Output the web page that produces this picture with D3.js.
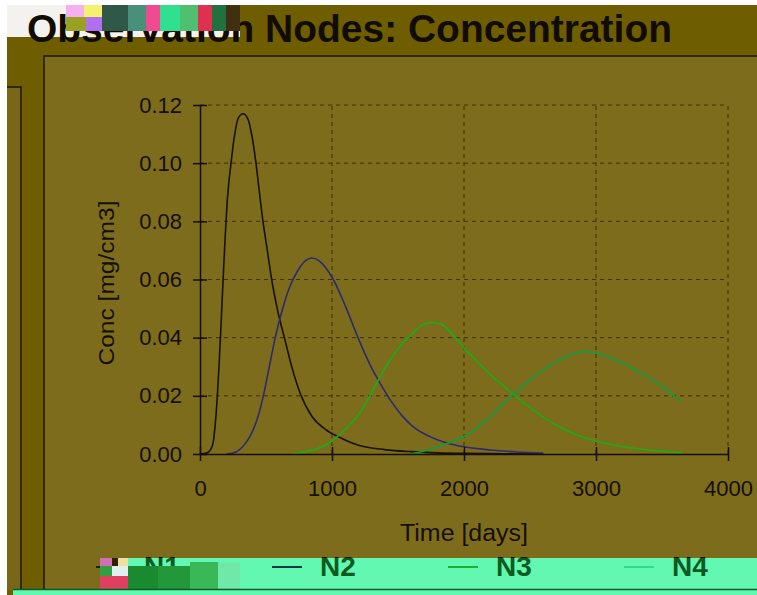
<!DOCTYPE html>
<html>
<head>
<meta charset="utf-8">
<script src="https://cdn.jsdelivr.net/npm/d3@7"></script>
<style>
  body { margin: 0; background: #fff; }
  text { font-family: "Liberation Sans", Arial, sans-serif; }
</style>
</head>
<body>
<script>
const W = 757, H = 595;

// series (days, mg/cm3)
const n1Days = [0, 50, 80, 100, 115, 130, 145, 160, 175, 190, 205, 220, 235, 260, 290, 326, 360, 395, 424, 450, 477, 510, 543, 590, 645, 695, 758, 850, 950, 1045, 1200, 1400, 1600, 1800, 2000, 2300, 2600];
const n1Conc = [0, 0.0003, 0.0015, 0.004, 0.01, 0.019, 0.031, 0.045, 0.06, 0.074, 0.086, 0.094, 0.10, 0.109, 0.1155, 0.117, 0.1155, 0.109, 0.10, 0.09, 0.08, 0.07, 0.06, 0.049, 0.039, 0.03, 0.021, 0.0128, 0.0085, 0.006, 0.003, 0.0015, 0.0008, 0.0004, 0.0002, 0.0001, 0];

const n2Days = [200, 250, 300, 350, 400, 440, 480, 525, 570, 620, 680, 740, 800, 846, 900, 950, 1010, 1100, 1197, 1290, 1364, 1450, 1530, 1614, 1750, 1869, 2000, 2200, 2400, 2600];
const n2Conc = [0, 0.0003, 0.0015, 0.004, 0.008, 0.013, 0.02, 0.03, 0.04, 0.049, 0.0575, 0.063, 0.0665, 0.0674, 0.0665, 0.0642, 0.06, 0.051, 0.04, 0.0305, 0.0244, 0.018, 0.0132, 0.0094, 0.0058, 0.0038, 0.0025, 0.0014, 0.0007, 0.0003];

const n3Days = [700, 800, 900, 1000, 1100, 1200, 1288, 1364, 1450, 1515, 1600, 1680, 1755, 1830, 1900, 2000, 2100, 2200, 2300, 2374, 2500, 2600, 2750, 2900, 3000, 3200, 3400, 3650];
const n3Conc = [0, 0.0008, 0.002, 0.0045, 0.0085, 0.0135, 0.02, 0.0266, 0.033, 0.037, 0.041, 0.0443, 0.0452, 0.0446, 0.0418, 0.0365, 0.0318, 0.0273, 0.0234, 0.0205, 0.016, 0.0127, 0.0087, 0.0058, 0.0045, 0.0026, 0.0014, 0.0004];

const n4Days = [1600, 1700, 1800, 1900, 2000, 2100, 2200, 2300, 2374, 2500, 2600, 2750, 2850, 2904, 3000, 3100, 3250, 3400, 3500, 3636];
const n4Conc = [0, 0.001, 0.0025, 0.004, 0.006, 0.009, 0.013, 0.0175, 0.0205, 0.0254, 0.029, 0.033, 0.0348, 0.0352, 0.0347, 0.0333, 0.0302, 0.0262, 0.0233, 0.0182];

const seriesNames = ["N1", "N2", "N3", "N4"];
const seriesColors = ["#1a1200", "#2c2a72", "#16b018", "#0e9e42"];
const legendColors = ["#102a10", "#0e3a40", "#20b030", "#34d890"];

const xTicks = [0, 1000, 2000, 3000, 4000];
const yTicks = [0, 0.02, 0.04, 0.06, 0.08, 0.10, 0.12];

const series = [
    d3.zip(n1Days, n1Conc),
    d3.zip(n2Days, n2Conc),
    d3.zip(n3Days, n3Conc),
    d3.zip(n4Days, n4Conc)
];

const svg = d3.select("body").append("svg")
    .attr("width", W)
    .attr("height", H);

// frame / panels
svg.append("rect").attr("width", W).attr("height", H).attr("fill", "#fff");
svg.append("rect").attr("x", 7).attr("y", 5).attr("width", W - 7).attr("height", H - 5).attr("fill", "#6f5e00");
svg.append("rect").attr("x", 7).attr("y", 5).attr("width", 233).attr("height", 32).attr("fill", "#f4f2ee");

svg.append("rect").attr("x", 44).attr("y", 56).attr("width", W - 44).attr("height", 534)
    .attr("fill", "#7d6c1c");
svg.append("rect").attr("x", 7).attr("y", 87).attr("width", 14).attr("height", 503)
    .attr("fill", "#786716");
svg.append("path").attr("d", "M44,590V56H757").attr("fill", "none").attr("stroke", "#1c1400").attr("stroke-width", 1.5);
svg.append("path").attr("d", "M7,87H21V590").attr("fill", "none").attr("stroke", "#1c1400").attr("stroke-width", 1.5);

// title
svg.append("text")
    .attr("x", 27).attr("y", 42)
    .attr("font-size", 38).attr("font-weight", "bold")
    .attr("fill", "#120c00")
    .attr("textLength", 645).attr("lengthAdjust", "spacingAndGlyphs")
    .text("Observation Nodes: Concentration");

// broken block over the title
const glitch = [
    [66, 5, 18, 12, "#f6b0f0"], [84, 5, 18, 12, "#f4f070"], [66, 17, 20, 14, "#9aa020"],
    [86, 17, 16, 14, "#b070f0"], [102, 5, 26, 26, "#305848"], [128, 5, 18, 26, "#48907a"],
    [146, 5, 14, 26, "#f04a90"], [160, 5, 20, 26, "#2fe090"], [180, 5, 18, 26, "#50c070"],
    [198, 5, 14, 26, "#e03050"], [212, 5, 14, 26, "#207040"], [226, 5, 14, 26, "#403010"]
];
svg.selectAll("rect.glitch").data(glitch).enter().append("rect")
    .attr("class", "glitch")
    .attr("x", d => d[0]).attr("y", d => d[1])
    .attr("width", d => d[2]).attr("height", d => d[3])
    .attr("fill", d => d[4]);

// plot
const x = d3.scaleLinear().domain([0, 4000]).range([200, 728]);
const y = d3.scaleLinear().domain([0, 0.12]).range([454, 105]);

const grid = svg.append("g").attr("stroke", "#3e3000").attr("stroke-dasharray", "4,4").attr("stroke-width", 1);
grid.selectAll("line.h").data(yTicks.slice(1)).enter().append("line")
    .attr("x1", x(0)).attr("x2", x(4000))
    .attr("y1", d => y(d)).attr("y2", d => y(d));
grid.selectAll("line.v").data(xTicks.slice(1)).enter().append("line")
    .attr("x1", d => x(d)).attr("x2", d => x(d))
    .attr("y1", y(0)).attr("y2", y(0.12));

const line = d3.line()
    .x(d => x(d[0]))
    .y(d => y(d[1]))
    .curve(d3.curveMonotoneX);

svg.append("g").selectAll("path")
    .data(series)
    .enter()
    .append("path")
    .attr("d", line)
    .attr("fill", "none")
    .attr("stroke", (d, i) => seriesColors[i])
    .attr("stroke-width", 1.6);

let yAxis = svg.append("g")
    .attr("transform", `translate(${x(0)},0)`)
    .call(d3.axisLeft(y).tickValues(yTicks).tickFormat(d3.format(".2f")).tickSize(7).tickSizeOuter(0).tickPadding(11));
yAxis.selectAll(".tick line").attr("x1", 7);

let xAxis = svg.append("g")
    .attr("transform", `translate(0,${y(0)})`)
    .call(d3.axisBottom(x).tickValues(xTicks).tickFormat(d3.format("d")).tickSize(7).tickSizeOuter(0).tickPadding(19));
xAxis.selectAll(".tick line").attr("y1", -7);

svg.selectAll(".domain").attr("stroke", "#140e00").attr("stroke-width", 1.5);
svg.selectAll(".tick line").attr("stroke", "#140e00").attr("stroke-width", 1.5);
svg.selectAll(".tick text")
    .attr("font-size", 22)
    .attr("fill", "#150f00")
    .style("font-family", "'Liberation Sans', Arial, sans-serif");

svg.append("text")
    .attr("transform", "translate(114,283) rotate(-90)")
    .attr("text-anchor", "middle")
    .attr("font-size", 22).attr("fill", "#150f00")
    .attr("textLength", 165).attr("lengthAdjust", "spacingAndGlyphs")
    .text("Conc [mg/cm3]");

svg.append("text")
    .attr("x", 464).attr("y", 541)
    .attr("text-anchor", "middle")
    .attr("font-size", 23).attr("fill", "#150f00")
    .attr("textLength", 128).attr("lengthAdjust", "spacingAndGlyphs")
    .text("Time [days]");

// bright band at the bottom holding the legend
const bandTop = 558;
svg.append("rect").attr("x", 100).attr("y", bandTop).attr("width", W - 100).attr("height", 31).attr("fill", "#62f8b2");

// legend text: black where it sticks out above the band, green inside it
const grad = svg.append("defs").append("linearGradient")
    .attr("id", "legendFill")
    .attr("gradientUnits", "userSpaceOnUse")
    .attr("x1", 0).attr("y1", 0).attr("x2", 0).attr("y2", H);
grad.append("stop").attr("offset", bandTop / H).attr("stop-color", "#120c00");
grad.append("stop").attr("offset", bandTop / H).attr("stop-color", "#0b5a20");

const item = svg.append("g").selectAll("g").data(seriesNames).enter().append("g")
    .attr("transform", (d, i) => `translate(${96 + 176 * i},0)`);
item.append("line").attr("x1", 0).attr("x2", 30).attr("y1", 567).attr("y2", 567)
    .attr("stroke", (d, i) => legendColors[i]).attr("stroke-width", 2);
item.append("text").attr("x", 48).attr("y", 576)
    .attr("font-size", 28).attr("font-weight", "bold").attr("fill", "url(#legendFill)")
    .text(d => d);

const bandGlitch = [
    [100, 558, 12, 8, "#d070b0"], [112, 558, 6, 8, "#302000"], [118, 558, 10, 8, "#f0e0a0"],
    [100, 566, 12, 10, "#30a040"], [112, 566, 16, 10, "#e0f0f0"], [100, 576, 28, 13, "#e04060"],
    [128, 566, 30, 23, "#1a8a30"], [158, 566, 32, 23, "#22983a"], [190, 562, 28, 27, "#3ab858"],
    [218, 562, 22, 27, "#70e8a8"]
];
svg.selectAll("rect.bg").data(bandGlitch).enter().append("rect")
    .attr("class", "bg")
    .attr("x", d => d[0]).attr("y", d => d[1])
    .attr("width", d => d[2]).attr("height", d => d[3])
    .attr("fill", d => d[4]);

// bottom edge
svg.append("rect").attr("x", 13).attr("y", 589).attr("width", W - 13).attr("height", 6).attr("fill", "#62f8b2");
svg.append("line").attr("x1", 13).attr("x2", W).attr("y1", 589.5).attr("y2", 589.5)
    .attr("stroke", "#0a5a28").attr("stroke-width", 1.5);
</script>
</body>
</html>
